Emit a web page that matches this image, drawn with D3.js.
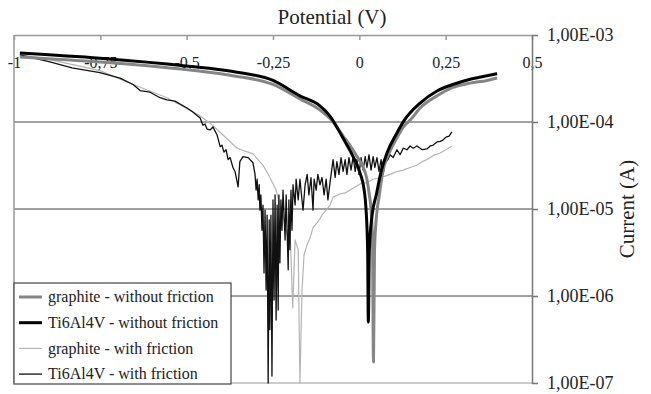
<!DOCTYPE html>
<html>
<head>
<meta charset="utf-8">
<script src="https://cdn.jsdelivr.net/npm/d3@7/dist/d3.min.js"></script>
<style>
  body { margin: 0; background: #fff; }
  svg { display: block; font-family: "Liberation Serif", "Times New Roman", serif; }
</style>
</head>
<body>
<div id="chart"></div>
<script>
// potential (V) ticks and current (A) decades
var potentialTicks = [-1, -0.75, -0.5, -0.25, 0, 0.25, 0.5];
var currentTicks = [1e-7, 1e-6, 1e-5, 1e-4, 1e-3];

var seriesNames = [
  "graphite - without friction",
  "Ti6Al4V - without friction",
  "graphite - with friction",
  "Ti6Al4V - with friction"
];

// [potential V, current A]
var graphiteNoFriction = [
  [-0.983, 5.6e-4], [-0.751, 4.9e-4], [-0.502, 4.0e-4], [-0.366, 3.4e-4], [-0.25, 2.7e-4],
  [-0.172, 1.84e-4], [-0.114, 1.37e-4], [-0.076, 1.0e-4], [-0.047, 6.9e-5], [-0.027, 5.4e-5],
  [-0.010, 4.2e-5], [0.008, 3.2e-5], [0.022, 2.2e-5], [0.029, 1.45e-5], [0.034, 9.7e-6],
  [0.038, 4.4e-6], [0.041, 1.74e-7], [0.044, 3.4e-6], [0.050, 8.5e-6], [0.057, 1.37e-5],
  [0.068, 2.7e-5], [0.084, 4.2e-5], [0.108, 6.5e-5], [0.128, 8.8e-5], [0.150, 1.08e-4],
  [0.176, 1.45e-4], [0.225, 2.0e-4], [0.271, 2.5e-4], [0.321, 2.8e-4], [0.370, 3.0e-4],
  [0.399, 3.2e-4]
];

var tiNoFriction = [
  [-0.983, 6.2e-4], [-0.751, 5.4e-4], [-0.502, 4.4e-4], [-0.366, 3.8e-4], [-0.25, 3.0e-4],
  [-0.172, 2.0e-4], [-0.114, 1.53e-4], [-0.085, 1.17e-4], [-0.047, 6.5e-5], [-0.018, 4.0e-5],
  [0.002, 2.6e-5], [0.014, 1.65e-5], [0.019, 1.05e-5], [0.024, 3.4e-6], [0.026, 5.0e-7],
  [0.029, 3.4e-6], [0.037, 8.5e-6], [0.049, 1.45e-5], [0.064, 2.8e-5], [0.080, 4.4e-5],
  [0.109, 7.5e-5], [0.129, 1.03e-4], [0.176, 1.65e-4], [0.225, 2.27e-4], [0.271, 2.7e-4],
  [0.321, 3.1e-4], [0.370, 3.4e-4], [0.399, 3.6e-4]
];

var graphiteFriction = [
  [-0.977, 5.9e-4], [-0.896, 5.2e-4], [-0.751, 3.9e-4], [-0.655, 2.7e-4], [-0.557, 1.9e-4],
  [-0.461, 1.17e-4], [-0.432, 9.7e-5], [-0.395, 7.1e-5], [-0.354, 5.0e-5], [-0.308, 4.3e-5],
  [-0.279, 3.2e-5], [-0.259, 2.3e-5], [-0.241, 1.65e-5], [-0.230, 1.11e-5], [-0.221, 8.5e-6],
  [-0.209, 5.0e-6], [-0.201, 6.5e-6], [-0.193, 7.3e-7], [-0.186, 4.4e-6], [-0.177, 3.4e-6],
  [-0.172, 1.0e-7], [-0.166, 1.17e-6], [-0.160, 3.0e-6], [-0.151, 3.9e-6], [-0.143, 4.6e-6],
  [-0.134, 6.1e-6], [-0.120, 7.1e-6], [-0.108, 8.5e-6], [-0.096, 9.7e-6], [-0.085, 1.11e-5],
  [-0.076, 1.37e-5], [-0.056, 1.49e-5], [-0.041, 1.53e-5], [-0.027, 1.65e-5], [-0.007, 1.84e-5],
  [0.008, 2.0e-5], [0.022, 2.0e-5], [0.040, 2.2e-5], [0.060, 2.3e-5], [0.077, 2.4e-5],
  [0.089, 2.5e-5], [0.109, 2.7e-5], [0.127, 2.8e-5], [0.147, 3.0e-5], [0.167, 3.2e-5],
  [0.182, 3.5e-5], [0.196, 3.7e-5], [0.213, 4.1e-5], [0.234, 4.4e-5], [0.251, 4.8e-5],
  [0.268, 5.3e-5]
];

var tiFriction = [
  [-0.983, 5.9e-4], [-0.939, 5.4e-4], [-0.896, 4.9e-4], [-0.832, 4.2e-4], [-0.751, 3.7e-4],
  [-0.693, 3.2e-4], [-0.655, 2.7e-4], [-0.635, 2.3e-4], [-0.606, 2.2e-4], [-0.577, 1.9e-4],
  [-0.557, 1.8e-4], [-0.534, 1.74e-4], [-0.499, 1.45e-4], [-0.482, 1.3e-4], [-0.461, 1.11e-4],
  [-0.453, 9.2e-5], [-0.447, 9.5e-5], [-0.441, 8.3e-5], [-0.432, 8.1e-5], [-0.424, 8.8e-5],
  [-0.412, 7.1e-5], [-0.403, 5.2e-5], [-0.398, 5.4e-5], [-0.392, 4.5e-5], [-0.386, 4.8e-5],
  [-0.380, 3.7e-5], [-0.374, 3.9e-5], [-0.366, 3.0e-5], [-0.360, 2.7e-5], [-0.351, 1.8e-5],
  [-0.346, 3.5e-5], [-0.337, 4.0e-5], [-0.322, 3.9e-5], [-0.308, 3.4e-5], [-0.302, 2.5e-5],
  [-0.299, 1.65e-5], [-0.296, 2.2e-5], [-0.293, 1.27e-5], [-0.290, 1.9e-5], [-0.288, 9.7e-6],
  [-0.285, 1.45e-5], [-0.282, 5.7e-6], [-0.279, 1.11e-5], [-0.276, 1.84e-6], [-0.273, 9.7e-6],
  [-0.270, 1.17e-6], [-0.267, 8.5e-6], [-0.264, 1.0e-7], [-0.261, 7.5e-6], [-0.259, 4.1e-7],
  [-0.256, 8.5e-6], [-0.253, 1.2e-7], [-0.250, 1.27e-5], [-0.247, 9.0e-7], [-0.244, 1.45e-5],
  [-0.241, 5.3e-7], [-0.238, 1.11e-5], [-0.235, 6.9e-7], [-0.233, 1.45e-5], [-0.230, 2.4e-6],
  [-0.227, 1.27e-5], [-0.224, 5.7e-6], [-0.221, 1.65e-5], [-0.215, 4.4e-6], [-0.212, 1.45e-5],
  [-0.206, 2.0e-6], [-0.204, 1.27e-5], [-0.201, 3.4e-6], [-0.198, 1.65e-5], [-0.195, 5.7e-6],
  [-0.192, 1.9e-5], [-0.186, 1.11e-5], [-0.183, 2.2e-5], [-0.177, 1.27e-5], [-0.172, 2.2e-5],
  [-0.166, 1.27e-5], [-0.163, 9.7e-6], [-0.157, 1.9e-5], [-0.151, 2.5e-5], [-0.146, 1.45e-5],
  [-0.140, 2.3e-5], [-0.134, 9.7e-6], [-0.131, 2.2e-5], [-0.125, 1.65e-5], [-0.120, 2.5e-5],
  [-0.114, 1.9e-5], [-0.108, 2.3e-5], [-0.102, 1.45e-5], [-0.096, 2.2e-5], [-0.091, 1.27e-5],
  [-0.085, 2.0e-5], [-0.076, 3.7e-5], [-0.070, 2.3e-5], [-0.065, 3.5e-5], [-0.059, 2.5e-5],
  [-0.053, 3.9e-5], [-0.047, 2.7e-5], [-0.041, 3.7e-5], [-0.036, 2.5e-5], [-0.030, 3.9e-5],
  [-0.024, 2.8e-5], [-0.018, 4.0e-5], [-0.012, 2.7e-5], [-0.007, 3.7e-5], [-0.001, 2.5e-5],
  [0.005, 3.9e-5], [0.011, 2.8e-5], [0.017, 4.0e-5], [0.022, 3.0e-5], [0.028, 4.2e-5],
  [0.034, 2.8e-5], [0.040, 4.0e-5], [0.045, 3.0e-5], [0.051, 3.9e-5], [0.057, 2.7e-5],
  [0.063, 3.7e-5], [0.069, 2.5e-5], [0.074, 3.4e-5], [0.083, 3.7e-5], [0.089, 4.2e-5],
  [0.098, 3.9e-5], [0.109, 4.8e-5], [0.118, 4.2e-5], [0.127, 5.0e-5], [0.138, 4.8e-5],
  [0.147, 5.3e-5], [0.156, 5.0e-5], [0.167, 5.3e-5], [0.182, 4.8e-5], [0.196, 4.9e-5],
  [0.205, 5.3e-5], [0.213, 5.4e-5], [0.225, 5.9e-5], [0.234, 6.0e-5], [0.242, 6.2e-5],
  [0.251, 6.7e-5], [0.260, 6.9e-5], [0.268, 7.7e-5]
];

var W = 651, H = 394;
var plotLeft = 14, plotRight = 532, plotTop = 35, plotBottom = 383;
var serif = "'Liberation Serif', 'Times New Roman', serif";

var svg = d3.select("#chart").append("svg")
  .attr("width", W)
  .attr("height", H);

var x = d3.scaleLinear().domain([-1, 0.5]).range([plotLeft, plotRight]);
var y = d3.scaleLog().domain([1e-7, 1e-3]).range([plotBottom, plotTop]);

// gridlines
svg.append("g").selectAll("line")
  .data([1e-6, 1e-5, 1e-4])
  .enter().append("line")
    .attr("x1", plotLeft).attr("x2", plotRight)
    .attr("y1", function(d) { return y(d); })
    .attr("y2", function(d) { return y(d); })
    .attr("stroke", "#444")
    .attr("stroke-width", 1);

svg.append("line")
  .attr("x1", plotLeft).attr("x2", plotRight)
  .attr("y1", y(1e-7)).attr("y2", y(1e-7))
  .attr("stroke", "#bbb").attr("stroke-width", 1.5);

svg.append("line")
  .attr("x1", plotLeft).attr("x2", plotLeft)
  .attr("y1", plotTop).attr("y2", plotBottom)
  .attr("stroke", "#999").attr("stroke-width", 1.5);

// potential axis on top, ticks and labels inside
var xAxis = svg.append("g")
  .attr("transform", "translate(0," + plotTop + ")")
  .call(d3.axisBottom(x)
    .tickValues(potentialTicks)
    .tickSize(5)
    .tickSizeOuter(0)
    .tickPadding(17)
    .tickFormat(function(d) { return String(d).replace(".", ","); }));
xAxis.select(".domain").attr("stroke", "#999").attr("stroke-width", 1.5);
xAxis.selectAll(".tick line").attr("stroke", "#999").attr("stroke-width", 1.5);
xAxis.selectAll("text")
  .attr("fill", "#222")
  .style("font-size", "16px")
  .style("font-family", serif);

// current axis on the right
var yAxis = svg.append("g")
  .attr("transform", "translate(" + plotRight + ",0)")
  .call(d3.axisRight(y)
    .tickValues(currentTicks)
    .tickSize(6)
    .tickSizeOuter(0)
    .tickPadding(9)
    .tickFormat(function(d) {
      var e = Math.round(-Math.log10(d));
      return "1,00E-" + (e < 10 ? "0" + e : e);
    }));
yAxis.select(".domain").attr("stroke", "#777").attr("stroke-width", 1.5);
yAxis.selectAll(".tick line").attr("stroke", "#777").attr("stroke-width", 1.5);
yAxis.selectAll("text")
  .attr("fill", "#222")
  .style("font-size", "18px")
  .style("font-family", serif);

svg.append("text")
  .attr("x", 332).attr("y", 24)
  .attr("text-anchor", "middle")
  .attr("fill", "#222")
  .style("font-size", "21px")
  .style("font-family", serif)
  .text("Potential (V)");

svg.append("text")
  .attr("transform", "translate(634," + ((plotTop + plotBottom) / 2) + ") rotate(-90)")
  .attr("text-anchor", "middle")
  .attr("fill", "#222")
  .style("font-size", "21px")
  .style("font-family", serif)
  .text("Current (A)");

var line = d3.line()
  .x(function(d) { return x(d[0]); })
  .y(function(d) { return y(d[1]); });
var smooth = d3.line()
  .x(function(d) { return x(d[0]); })
  .y(function(d) { return y(d[1]); })
  .curve(d3.curveMonotoneX);

var styles = [
  {data: graphiteNoFriction, color: "#858585", width: 3, gen: smooth},
  {data: tiNoFriction, color: "#000", width: 3, gen: smooth},
  {data: graphiteFriction, color: "#b4b4b4", width: 1.2, gen: line},
  {data: tiFriction, color: "#111", width: 1.3, gen: line}
];

// thin noisy curves first, thick ones over them
[2, 3, 0, 1].forEach(function(i) {
  svg.append("path")
    .datum(styles[i].data)
    .attr("d", styles[i].gen)
    .attr("fill", "none")
    .attr("stroke", styles[i].color)
    .attr("stroke-width", styles[i].width)
    .attr("stroke-linejoin", "round");
});

// legend
var legend = svg.append("g").attr("transform", "translate(14,283)");
legend.append("rect")
  .attr("width", 217).attr("height", 101)
  .attr("fill", "#fff")
  .attr("stroke", "#444")
  .attr("stroke-width", 1.2);

var rows = legend.selectAll("g.row")
  .data(seriesNames)
  .enter().append("g")
    .attr("class", "row")
    .attr("transform", function(d, i) { return "translate(0," + (14 + i * 25.7) + ")"; });
rows.append("line")
  .attr("x1", 5).attr("x2", 28)
  .attr("stroke", function(d, i) { return styles[i].color; })
  .attr("stroke-width", function(d, i) { return styles[i].width; });
rows.append("text")
  .attr("x", 34)
  .attr("dy", "0.33em")
  .attr("fill", "#222")
  .style("font-size", "16px")
  .style("font-family", serif)
  .text(function(d) { return d; });
</script>
</body>
</html>
